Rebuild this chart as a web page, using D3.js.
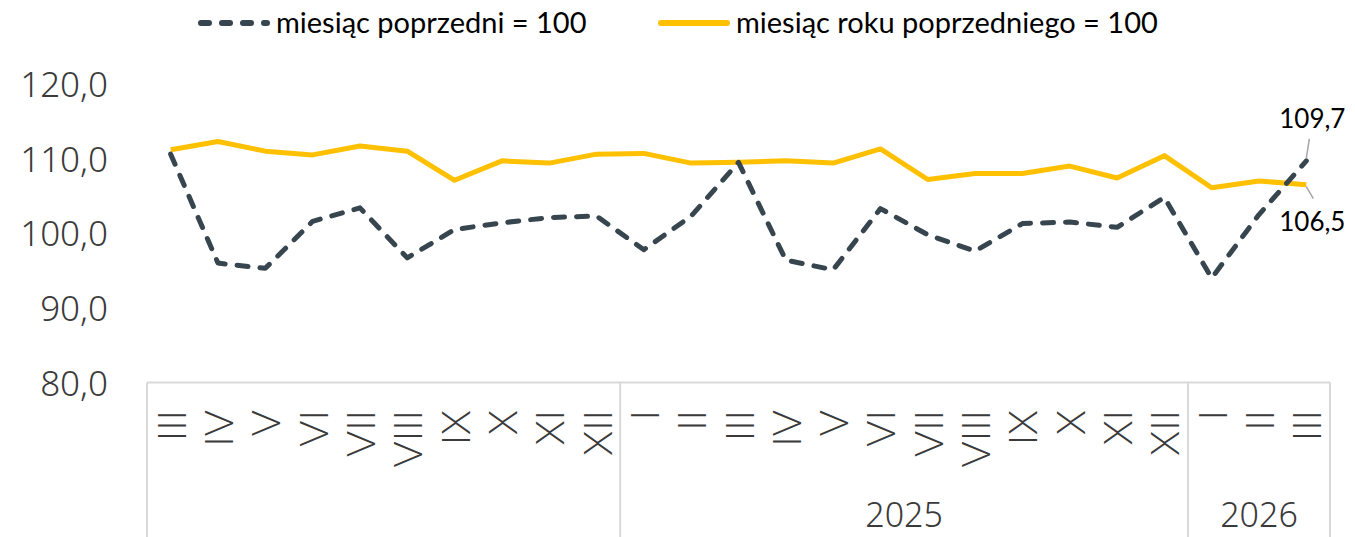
<!DOCTYPE html>
<html>
<head>
<meta charset="utf-8">
<script src="https://cdn.jsdelivr.net/npm/d3@7"></script>
<style>
	body { margin: 0; background: #fff; }
	svg { display: block; }
</style>
</head>
<body>
<div id="chart"></div>
<script>
// months shown on the axis (rotated roman numerals)
var months = ["III","IV","V","VI","VII","VIII","IX","X","XI","XII",
	"I","II","III","IV","V","VI","VII","VIII","IX","X","XI","XII",
	"I","II","III"];

// year groups: label, number of months
var yearLabels = ["", "2025", "2026"];
var yearSizes = [10, 12, 3];

// miesiąc poprzedni = 100
var mom = [110.6, 96.0, 95.3, 101.6, 103.4, 96.7, 100.5, 101.4, 102.1, 102.3,
	97.8, 102.3, 109.5, 96.4, 95.1, 103.3, 99.8, 97.6, 101.3, 101.5, 100.8,
	104.8, 94.0, 102.5, 109.7];

// miesiąc roku poprzedniego = 100
var yoy = [111.2, 112.3, 111.0, 110.5, 111.7, 111.0, 107.1, 109.7, 109.4, 110.6,
	110.7, 109.4, 109.5, 109.7, 109.4, 111.3, 107.2, 108.0, 108.0, 109.0, 107.4,
	110.4, 106.1, 107.0, 106.5];

var yTicks = [80, 90, 100, 110, 120];

var width = 1355,
	height = 537;

var plot = {
	left: 147,
	right: 1330,
	top: 84,
	bottom: 382.5
};

var darkColor = "#37454f",
	goldColor = "#ffc000",
	frameColor = "#d9d9d9",
	textColor = "#3a3a3a";

var svg = d3.select("#chart").append("svg")
	.attr("width", width)
	.attr("height", height);

var idx = d3.range(months.length);

var x = d3.scaleBand()
	.domain(idx)
	.range([plot.left, plot.right]);

var y = d3.scaleLinear()
	.domain([80, 120])
	.range([plot.bottom, plot.top]);

var fmt = function(v) { return d3.format(".1f")(v).replace(".", ","); };

//
// Y axis labels (no gridlines)
//
var yAxis = d3.axisLeft(y)
	.tickValues(yTicks)
	.tickSize(0)
	.tickPadding(0)
	.tickFormat(fmt);

var yG = svg.append("g")
	.attr("transform", "translate(108,0)")
	.call(yAxis);
yG.select(".domain").remove();
yG.selectAll("text")
	.attr("fill", textColor)
	.attr("dy", "0.36em")
	.style("font-family", "'Noto Sans', sans-serif")
	.style("font-weight", 300)
	.style("font-size", "35px");

//
// X axis frame and labels
//
var frame = svg.append("g");

frame.append("line")
	.attr("x1", plot.left).attr("x2", plot.right)
	.attr("y1", plot.bottom).attr("y2", plot.bottom)
	.attr("stroke", frameColor)
	.attr("stroke-width", 2);

var cum = [0];
yearSizes.forEach(function(s, i) { cum.push(cum[i] + s); });

var bounds = cum.map(function(c) {
	return c < months.length ? x(c) : plot.right;
});

frame.selectAll("line.sep")
	.data(bounds)
	.enter()
	.append("line")
	.attr("class", "sep")
	.attr("x1", function(d) { return d; })
	.attr("x2", function(d) { return d; })
	.attr("y1", plot.bottom)
	.attr("y2", height)
	.attr("stroke", frameColor)
	.attr("stroke-width", 2);

svg.selectAll("text.month")
	.data(months)
	.enter()
	.append("text")
	.attr("class", "month")
	.attr("transform", function(d, i) {
		return "translate(" + (x(i) + x.bandwidth() / 2) + ",410) rotate(-90)";
	})
	.attr("text-anchor", "end")
	.attr("dominant-baseline", "central")
	.attr("fill", textColor)
	.style("font-family", "Lato, sans-serif")
	.style("font-weight", 300)
	.style("font-size", "40px")
	.text(function(d) { return d; });

svg.selectAll("text.year")
	.data(yearLabels)
	.enter()
	.append("text")
	.attr("class", "year")
	.attr("x", function(d, i) { return (bounds[i] + bounds[i + 1]) / 2; })
	.attr("y", 527)
	.attr("text-anchor", "middle")
	.attr("fill", textColor)
	.style("font-family", "'Noto Sans', sans-serif")
	.style("font-weight", 300)
	.style("font-size", "34px")
	.text(function(d) { return d; });

//
// Lines
//
var line = function(values) {
	return d3.line()
		.x(function(d, i) { return x(i) + x.bandwidth() / 2; })
		.y(function(d) { return y(d); })(values);
};

svg.append("path")
	.attr("d", line(yoy))
	.attr("fill", "none")
	.attr("stroke", goldColor)
	.attr("stroke-width", 5)
	.attr("stroke-linejoin", "round");

svg.append("path")
	.attr("d", line(mom))
	.attr("fill", "none")
	.attr("stroke", darkColor)
	.attr("stroke-width", 5)
	.attr("stroke-dasharray", "11,12")
	.attr("stroke-linecap", "round")
	.attr("stroke-linejoin", "round");

//
// Last value labels with leader lines
//
var last = months.length - 1,
	lx = x(last) + x.bandwidth() / 2;

var callouts = [
	{ v: mom[last], ly1: -3, ly2: -22, dx: 3, ty: -33 },
	{ v: yoy[last], ly1: 2, ly2: 14, dx: 7, ty: 46 }
];

callouts.forEach(function(c) {
	var py = y(c.v);
	svg.append("line")
		.attr("x1", lx).attr("y1", py + c.ly1)
		.attr("x2", lx + c.dx).attr("y2", py + c.ly2)
		.attr("stroke", "#a6a6a6")
		.attr("stroke-width", 1.5);
	svg.append("text")
		.attr("x", lx + 6)
		.attr("y", py + c.ty)
		.attr("text-anchor", "middle")
		.attr("fill", "#000")
		.style("font-family", "Lato, sans-serif")
		.style("font-size", "26px")
		.text(fmt(c.v));
});

//
// Legend
//
var legend = [
	{ name: "miesiąc poprzedni = 100", color: darkColor, dash: "8,13", x: 199 },
	{ name: "miesiąc roku poprzedniego = 100", color: goldColor, dash: null, x: 659 }
];

legend.forEach(function(l) {
	var g = svg.append("g").attr("transform", "translate(" + l.x + ",23)");
	g.append("line")
		.attr("x1", 2).attr("x2", 68)
		.attr("y1", 0).attr("y2", 0)
		.attr("stroke", l.color)
		.attr("stroke-width", 6)
		.attr("stroke-linecap", "round")
		.attr("stroke-dasharray", l.dash);
	g.append("text")
		.attr("x", 77)
		.attr("y", 10)
		.attr("fill", "#000")
		.style("font-family", "Lato, sans-serif")
		.style("font-size", "29px")
		.text(l.name);
});
</script>
</body>
</html>
